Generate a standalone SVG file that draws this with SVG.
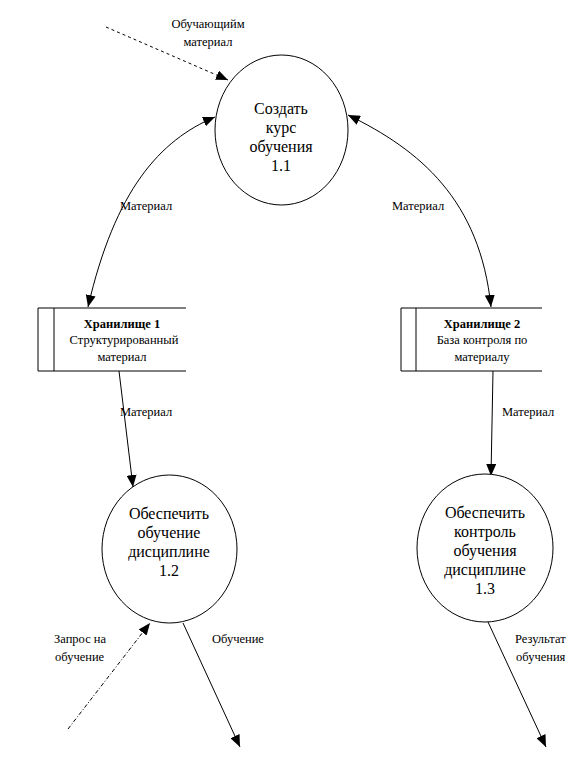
<svg xmlns="http://www.w3.org/2000/svg" width="588" height="761" viewBox="0 0 588 761">
<defs>
<marker id="ah" markerWidth="12" markerHeight="10" refX="12" refY="5" orient="auto-start-reverse" markerUnits="userSpaceOnUse">
<path d="M0,0 L12,5 L0,10 Z" fill="#000"/>
</marker>
<style>
.n{fill:#fff;stroke:#000;stroke-width:1}
.t{font-family:"Liberation Serif","Times New Roman",serif;font-size:16px;fill:#000;text-anchor:middle}
.s{font-family:"Liberation Serif","Times New Roman",serif;font-size:12.5px;fill:#000;text-anchor:middle}
.b{font-weight:bold}
.l{font-family:"Liberation Serif","Times New Roman",serif;font-size:12.5px;fill:#000}
.c{fill:none;stroke:#000;stroke-width:1}
.d{stroke-dasharray:3,3}
.dd{stroke-dasharray:4,2,1,2}
</style>
</defs>
<rect width="588" height="761" fill="#fff"/>
<g id="connectors">
<path class="c d" d="M106,27 L228,80" marker-end="url(#ah)"/>
<path class="c" d="M215,117 C160,140 115,190 88,307" marker-start="url(#ah)" marker-end="url(#ah)"/>
<path class="c" d="M348,115 C420,150 480,200 491,307" marker-start="url(#ah)" marker-end="url(#ah)"/>
<path class="c" d="M119,371 L133,487" marker-end="url(#ah)"/>
<path class="c" d="M493,371 L491,476" marker-end="url(#ah)"/>
<path class="c dd" d="M68,729 L150,623" marker-end="url(#ah)"/>
<path class="c" d="M183,623 L240,747" marker-end="url(#ah)"/>
<path class="c" d="M488,622 L546,747" marker-end="url(#ah)"/>
</g>
<g id="labels">
<text class="s" x="208" y="28">Обучающийм</text>
<text class="s" x="208" y="46">материал</text>
<text class="l" x="120" y="210">Материал</text>
<text class="l" x="392" y="210">Материал</text>
<text class="l" x="120" y="416">Материал</text>
<text class="l" x="502" y="416">Материал</text>
<text class="l" x="54" y="643">Запрос на</text>
<text class="l" x="55" y="661">обучение</text>
<text class="l" x="212" y="643">Обучение</text>
<text class="l" x="515" y="643">Результат</text>
<text class="l" x="516" y="661">обучения</text>
</g>
<g id="p11">
<ellipse class="n" cx="281.5" cy="130" rx="66.5" ry="75"/>
<text class="t" x="281" y="114">Создать</text>
<text class="t" x="281" y="133">курс</text>
<text class="t" x="281" y="152">обучения</text>
<text class="t" x="281" y="171">1.1</text>
</g>
<g id="store1">
<rect x="38" y="308" width="148" height="63" fill="#fff" stroke="none"/>
<path class="c" d="M186,308 H38 V371 H186 M54,308 V371"/>
<text class="s b" x="122" y="328">Хранилище 1</text>
<text class="s" x="124" y="344">Структурированный</text>
<text class="s" x="122" y="361">материал</text>
</g>
<g id="store2">
<rect x="401" y="308" width="141" height="63" fill="#fff" stroke="none"/>
<path class="c" d="M542,308 H401 V371 H542 M416,308 V371"/>
<text class="s b" x="482" y="328">Хранилище 2</text>
<text class="s" x="482" y="344">База контроля по</text>
<text class="s" x="482" y="361">материалу</text>
</g>
<g id="p12">
<ellipse class="n" cx="169.5" cy="549" rx="67.5" ry="74"/>
<text class="t" x="169" y="519">Обеспечить</text>
<text class="t" x="169" y="538">обучение</text>
<text class="t" x="169" y="557">дисциплине</text>
<text class="t" x="169" y="576">1.2</text>
</g>
<g id="p13">
<ellipse class="n" cx="485" cy="548" rx="68" ry="74"/>
<text class="t" x="485" y="518">Обеспечить</text>
<text class="t" x="485" y="537">контроль</text>
<text class="t" x="485" y="556">обучения</text>
<text class="t" x="485" y="575">дисциплине</text>
<text class="t" x="485" y="594">1.3</text>
</g>
</svg>
